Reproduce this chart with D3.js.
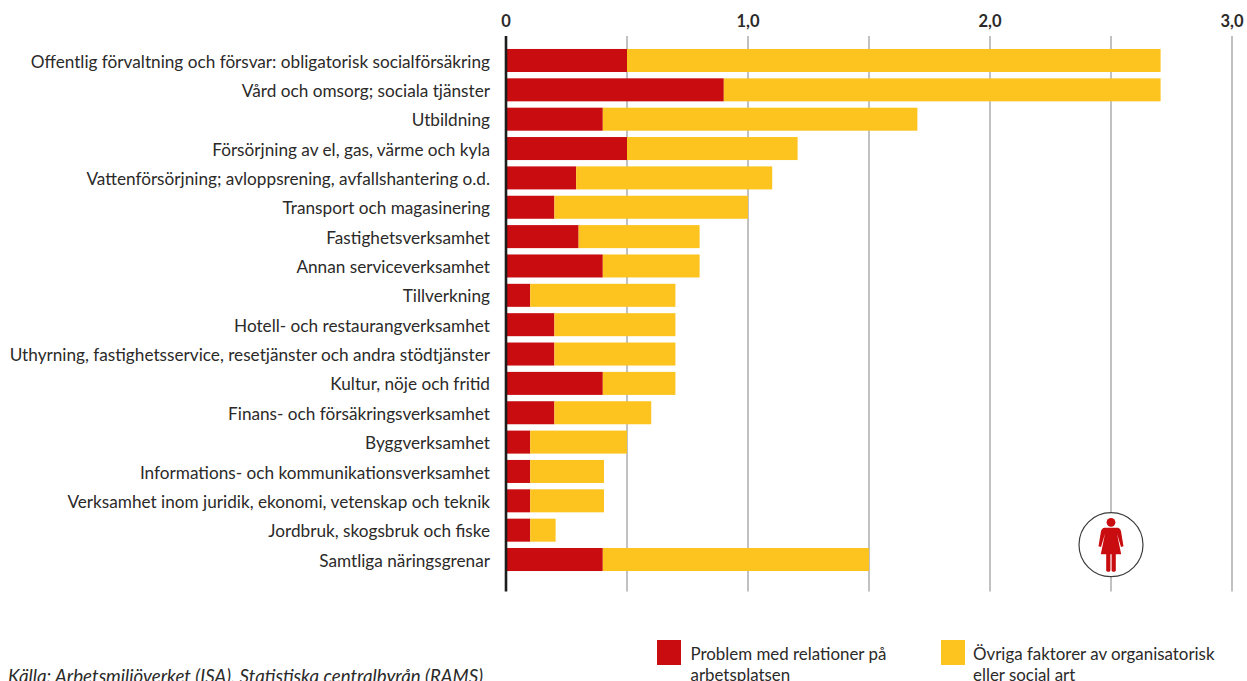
<!DOCTYPE html>
<html>
<head>
<meta charset="utf-8">
<script src="https://cdn.jsdelivr.net/npm/d3@7"></script>
<style>
html, body { margin: 0; padding: 0; background: #fff; overflow: hidden; }
text { font-family: Lato, sans-serif; fill: #2b2a29; }
</style>
</head>
<body>
<div id="my_dataviz"></div>
<script>
// Data lasta fran bilden
var categories = [
    "Offentlig förvaltning och försvar: obligatorisk socialförsäkring",
    "Vård och omsorg; sociala tjänster",
    "Utbildning",
    "Försörjning av el, gas, värme och kyla",
    "Vattenförsörjning; avloppsrening, avfallshantering o.d.",
    "Transport och magasinering",
    "Fastighetsverksamhet",
    "Annan serviceverksamhet",
    "Tillverkning",
    "Hotell- och restaurangverksamhet",
    "Uthyrning, fastighetsservice, resetjänster och andra stödtjänster",
    "Kultur, nöje och fritid",
    "Finans- och försäkringsverksamhet",
    "Byggverksamhet",
    "Informations- och kommunikationsverksamhet",
    "Verksamhet inom juridik, ekonomi, vetenskap och teknik",
    "Jordbruk, skogsbruk och fiske",
    "Samtliga näringsgrenar"
];
var relationer = [0.5, 0.9, 0.4, 0.5, 0.29, 0.2, 0.3, 0.4, 0.1, 0.2, 0.2, 0.4, 0.2, 0.1, 0.1, 0.1, 0.1, 0.4];
var ovriga = [2.205, 1.805, 1.3, 0.705, 0.81, 0.8, 0.5, 0.4, 0.6, 0.5, 0.5, 0.3, 0.4, 0.4, 0.305, 0.305, 0.105, 1.1];
var tickLabels = [0, 1, 2, 3];
var gridTicks = [0.5, 1, 1.5, 2, 2.5, 3];
var legendLabels = [["Problem med relationer på", "arbetsplatsen"], ["Övriga faktorer av organisatorisk", "eller social art"]];
var kalla = "Källa: Arbetsmiljöverket (ISA), Statistiska centralbyrån (RAMS)";

var colorRed = "#c90c0f";
var colorYellow = "#fdc41f";
var _b = 1247, _h = 681;

var svg = d3.select("#my_dataviz").append("svg")
    .attr("width", _b).attr("height", _h).style("display", "block");

var x = d3.scaleLinear().domain([0, 3]).range([506, 1232]);
var y = d3.scaleBand().domain(categories).range([45.8, 574.2]).paddingInner(0.216).paddingOuter(0.108);

// rutnat
svg.append("g").selectAll("line").data(gridTicks).enter().append("line")
    .attr("x1", function (d) { return x(d); })
    .attr("x2", function (d) { return x(d); })
    .attr("y1", 36).attr("y2", 591.5)
    .attr("stroke", "#b2b2b2").attr("stroke-width", 1.6);

// staplar
var rows = svg.append("g").selectAll("g").data(categories).enter().append("g");
rows.append("rect")
    .attr("x", x(0))
    .attr("y", function (d) { return y(d); })
    .attr("width", function (d, i) { return x(relationer[i]) - x(0); })
    .attr("height", y.bandwidth())
    .attr("fill", colorRed);
rows.append("rect")
    .attr("x", function (d, i) { return x(relationer[i]); })
    .attr("y", function (d) { return y(d); })
    .attr("width", function (d, i) { return x(relationer[i] + ovriga[i]) - x(relationer[i]); })
    .attr("height", y.bandwidth())
    .attr("fill", colorYellow);

// kategorier
rows.append("text")
    .attr("x", 490)
    .attr("y", function (d) { return y(d) + y.bandwidth() / 2; })
    .attr("dy", "0.41em")
    .attr("text-anchor", "end")
    .style("font-size", "17.2px")
    .text(function (d) { return d; });

// nollinje
svg.append("line").attr("x1", x(0)).attr("x2", x(0)).attr("y1", 36).attr("y2", 591.5)
    .attr("stroke", "#1d1d1b").attr("stroke-width", 2.6);

// axel overst
svg.append("g").selectAll("text").data(tickLabels).enter().append("text")
    .attr("x", function (d) { return x(d); })
    .attr("y", 27)
    .attr("text-anchor", "middle")
    .style("font-size", "16.5px")
    .style("font-weight", 700)
    .text(function (d) { return d === 0 ? "0" : d3.format(".1f")(d).replace(".", ","); });

// kvinna-ikon
var ikon = svg.append("g").attr("transform", "translate(1111,544.7)");
ikon.append("circle").attr("r", 32).attr("fill", "#fff").attr("stroke", "#3c3c3b").attr("stroke-width", 1.2);
ikon.append("circle").attr("cy", -22.4).attr("r", 4.4).attr("fill", colorRed);
ikon.append("path")
    .attr("d", "M-6.5,-17 L6.5,-17 Q9,-17 10,-13.5 L12.5,1.5 L10,2.2 L6,-11 L10.2,9.6 L4.8,9.6 L4.8,26 L3.6,27 L1.6,27 L0.6,26 L0.6,9.6 L-0.6,9.6 L-0.6,26 L-1.6,27 L-3.6,27 L-4.8,26 L-4.8,9.6 L-10.2,9.6 L-6,-11 L-10,2.2 L-12.5,1.5 L-10,-13.5 Q-9,-17 -6.5,-17 Z")
    .attr("fill", colorRed);

// forklaring
var legendX = [657, 941], legendText = [690.5, 973], legendColors = [colorRed, colorYellow];
var leg = svg.append("g").selectAll("g").data(legendLabels).enter().append("g");
leg.append("rect")
    .attr("x", function (d, i) { return legendX[i]; })
    .attr("y", 640).attr("width", 24).attr("height", 25)
    .attr("fill", function (d, i) { return legendColors[i]; });
leg.selectAll("text").data(function (d, i) { return d.map(function (t) { return { t: t, i: i }; }); })
    .enter().append("text")
    .attr("x", function (d) { return legendText[d.i]; })
    .attr("y", function (d, j) { return 660 + j * 21; })
    .style("font-size", "16.9px")
    .text(function (d) { return d.t; });

svg.append("text").attr("x", 8).attr("y", 683)
    .style("font-size", "18.7px").style("font-style", "italic")
    .text(kalla);
</script>
</body>
</html>
